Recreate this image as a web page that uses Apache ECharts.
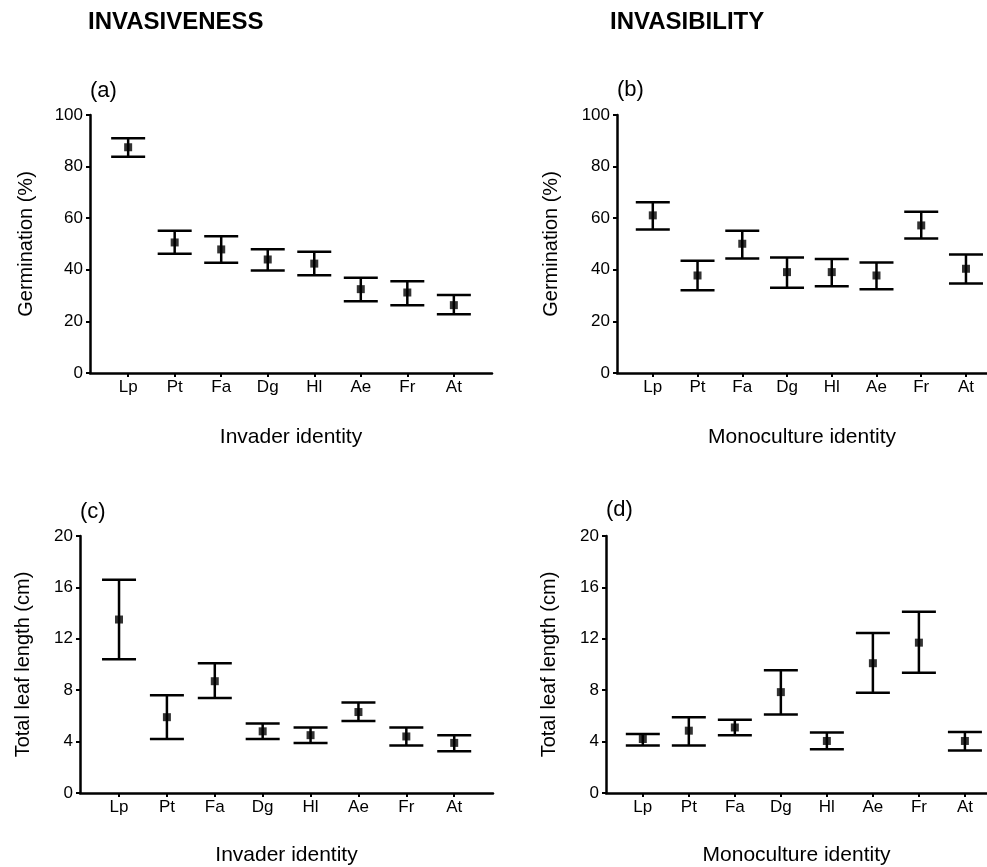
<!DOCTYPE html>
<html>
<head>
<meta charset="utf-8">
<script src="https://cdn.jsdelivr.net/npm/echarts@6/dist/echarts.min.js"></script>
<style>
  html, body { margin: 0; padding: 0; background: #fff; }
  #chart { width: 987px; height: 867px; }
</style>
</head>
<body>
<div id="chart"></div>
<script>
const categories = ['Lp', 'Pt', 'Fa', 'Dg', 'Hl', 'Ae', 'Fr', 'At']

// germination (%) by invader identity
const germInvMean = [87.5, 50.6, 47.9, 44.0, 42.4, 32.5, 31.2, 26.3]
const germInvUpper = [91.0, 55.1, 53.0, 48.0, 47.0, 36.9, 35.6, 30.2]
const germInvLower = [83.8, 46.2, 42.7, 39.7, 37.9, 27.8, 26.3, 22.8]

// germination (%) by monoculture identity
const germMonoMean = [61.1, 37.8, 50.1, 39.1, 39.1, 37.8, 57.2, 40.4]
const germMonoUpper = [66.2, 43.5, 55.1, 44.8, 44.2, 42.8, 62.5, 45.9]
const germMonoLower = [55.6, 32.1, 44.4, 33.0, 33.6, 32.5, 52.1, 34.7]

// total leaf length (cm) by invader identity
const leafInvMean = [13.5, 5.9, 8.7, 4.8, 4.5, 6.3, 4.4, 3.9]
const leafInvUpper = [16.6, 7.6, 10.1, 5.4, 5.1, 7.05, 5.1, 4.5]
const leafInvLower = [10.4, 4.2, 7.4, 4.2, 3.9, 5.6, 3.7, 3.25]

// total leaf length (cm) by monoculture identity
const leafMonoMean = [4.2, 4.85, 5.1, 7.85, 4.05, 10.1, 11.7, 4.05]
const leafMonoUpper = [4.6, 5.9, 5.7, 9.55, 4.7, 12.45, 14.1, 4.75]
const leafMonoLower = [3.7, 3.7, 4.5, 6.1, 3.4, 7.8, 9.35, 3.3]

const germTicks = [0, 20, 40, 60, 80, 100]
const leafTicks = [0, 4, 8, 12, 16, 20]

const FONT = "'Liberation Sans', Arial, Helvetica, sans-serif"
const INK = '#000'
const positions = categories.map((_, i) => i + 1)

const panels = [
  { grid: { left: 90, top: 115, width: 402, height: 258 }, xMin: 0.18, xMax: 8.82,
    yMax: 100, yStep: 20, yName: 'Germination (%)', yGap: 54, xName: 'Invader identity', xGap: 54,
    mean: germInvMean, upper: germInvUpper, lower: germInvLower },
  { grid: { left: 617, top: 115, width: 370, height: 258 }, xMin: 0.2, xMax: 8.47,
    yMax: 100, yStep: 20, yName: 'Germination (%)', yGap: 56, xName: 'Monoculture identity', xGap: 54,
    mean: germMonoMean, upper: germMonoUpper, lower: germMonoLower },
  { grid: { left: 80, top: 536, width: 413, height: 258 }, xMin: 0.185, xMax: 8.81,
    yMax: 20, yStep: 4, yName: 'Total leaf length (cm)', yGap: 47, xName: 'Invader identity', xGap: 52,
    mean: leafInvMean, upper: leafInvUpper, lower: leafInvLower },
  { grid: { left: 606, top: 536, width: 381, height: 258 }, xMin: 0.2, xMax: 8.48,
    yMax: 20, yStep: 4, yName: 'Total leaf length (cm)', yGap: 47, xName: 'Monoculture identity', xGap: 52,
    mean: leafMonoMean, upper: leafMonoUpper, lower: leafMonoLower },
]

const panelLabels = [
  { text: '(a)', x: 90, y: 91 },
  { text: '(b)', x: 617, y: 90 },
  { text: '(c)', x: 80, y: 512 },
  { text: '(d)', x: 606, y: 510 },
]

function renderErrorBar(params, api) {
  const x = api.value(0)
  const top = api.coord([x, api.value(2)])
  const bottom = api.coord([x, api.value(1)])
  const half = 17
  const style = { stroke: INK, lineWidth: 2.5 }
  return {
    type: 'group',
    children: [
      { type: 'line', shape: { x1: top[0], y1: top[1], x2: bottom[0], y2: bottom[1] }, style },
      { type: 'line', shape: { x1: top[0] - half, y1: top[1], x2: top[0] + half, y2: top[1] }, style },
      { type: 'line', shape: { x1: bottom[0] - half, y1: bottom[1], x2: bottom[0] + half, y2: bottom[1] }, style },
    ],
  }
}

const grid = []
const xAxis = []
const yAxis = []
const series = []

panels.forEach((p, i) => {
  grid.push(p.grid)
  xAxis.push({
    gridIndex: i,
    type: 'value',
    min: p.xMin,
    max: p.xMax,
    name: p.xName,
    nameLocation: 'middle',
    nameGap: p.xGap,
    nameTextStyle: { fontFamily: FONT, fontSize: 21, color: INK },
    axisLine: { onZero: false, lineStyle: { color: INK, width: 2.5 } },
    axisTick: { customValues: positions, length: 4, lineStyle: { color: INK, width: 2 } },
    axisLabel: {
      customValues: positions,
      margin: 6,
      fontFamily: FONT, fontSize: 17, color: INK,
      formatter: (v) => categories[Math.round(v) - 1] || '',
    },
    splitLine: { show: false },
  })
  const ticks = p.yMax === 100 ? germTicks : leafTicks
  yAxis.push({
    gridIndex: i,
    type: 'value',
    min: ticks[0],
    max: ticks[ticks.length - 1],
    interval: p.yStep,
    name: p.yName,
    nameLocation: 'middle',
    nameGap: p.yGap,
    nameTextStyle: { fontFamily: FONT, fontSize: 20, color: INK },
    axisLine: { show: true, lineStyle: { color: INK, width: 2.5 } },
    axisTick: { show: true, length: 4, lineStyle: { color: INK, width: 2 } },
    axisLabel: { margin: 7, fontFamily: FONT, fontSize: 17, color: INK },
    splitLine: { show: false },
  })
  series.push({
    type: 'custom',
    xAxisIndex: i,
    yAxisIndex: i,
    renderItem: renderErrorBar,
    encode: { x: 0, y: [1, 2] },
    data: positions.map((x, k) => [x, p.lower[k], p.upper[k]]),
    silent: true,
  })
  series.push({
    type: 'scatter',
    xAxisIndex: i,
    yAxisIndex: i,
    symbol: 'rect',
    symbolSize: 8,
    itemStyle: { color: INK },
    data: positions.map((x, k) => [x, p.mean[k]]),
    z: 5,
  })
})

const graphic = [
  { type: 'text', left: 88, top: 10, style: { text: 'INVASIVENESS', font: `bold 24px ${FONT}`, fill: INK } },
  { type: 'text', left: 610, top: 10, style: { text: 'INVASIBILITY', font: `bold 24px ${FONT}`, fill: INK } },
].concat(panelLabels.map((l) => ({
  type: 'text',
  x: l.x,
  y: l.y,
  style: { text: l.text, font: `22px ${FONT}`, fill: INK, textVerticalAlign: 'middle' },
})))

const chart = echarts.init(document.getElementById('chart'), null, { renderer: 'canvas' })
chart.setOption({
  backgroundColor: '#fff',
  animation: false,
  grid,
  xAxis,
  yAxis,
  series,
  graphic,
})
</script>
</body>
</html>
